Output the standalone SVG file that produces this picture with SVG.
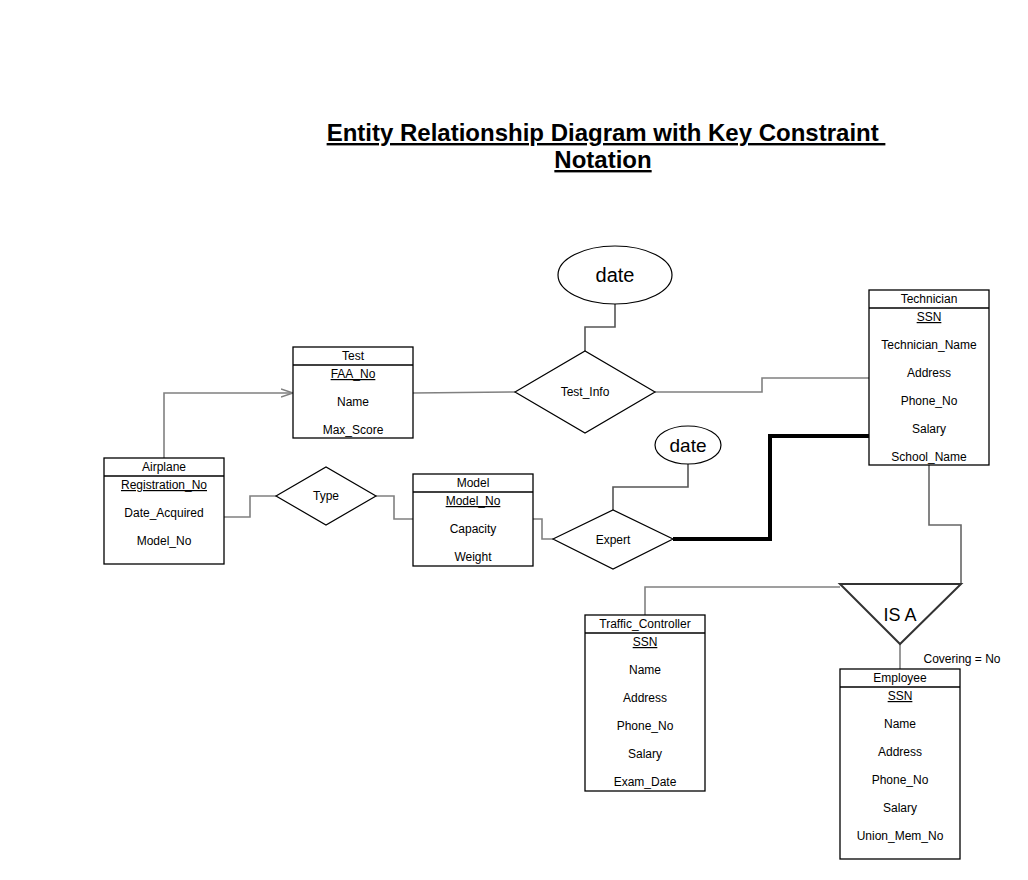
<svg xmlns="http://www.w3.org/2000/svg" width="1028" height="880" viewBox="0 0 1028 880">
<defs>
<style>
text{font-family:"Liberation Sans",Arial,sans-serif;fill:#000}
.box{fill:#fff;stroke:#000;stroke-width:1.3}
.t{font-size:12px;text-anchor:middle}
.k{text-decoration:underline}
.c{fill:none;stroke:#808080;stroke-width:1.6}
.shape{fill:#fff;stroke:#000;stroke-width:1.2}
</style>
<marker id="open" viewBox="0 0 12 10" refX="12" refY="5" markerWidth="12" markerHeight="10" markerUnits="userSpaceOnUse" orient="auto">
<path d="M0,1 L12,5 L0,9" fill="none" stroke="#808080" stroke-width="1.4"/>
</marker>
</defs>
<rect width="1028" height="880" fill="#fff"/>
<g id="title">
<text x="606" y="141" font-size="24" font-weight="bold" text-anchor="middle" text-decoration="underline" xml:space="preserve">Entity Relationship Diagram with Key Constraint </text>
<text x="603" y="168" font-size="24" font-weight="bold" text-anchor="middle" text-decoration="underline">Notation</text>
</g>
<g id="connectors">
<polyline class="c" points="164,458 164,393 293,393" marker-end="url(#open)"/>
<polyline class="c" points="224,517 250,517 250,496 276,496"/>
<polyline class="c" points="376,496 394,496 394,519 413,519"/>
<polyline class="c" points="533,519 542,519 542,539 553,539"/>
<polyline class="c" points="413,393 515,392"/>
<polyline class="c" points="655,392 762,392 762,378 869,378"/>
<polyline class="c" points="615,304 615,327 585,327 585,351" style="stroke:#555"/>
<polyline class="c" points="688,464 688,487 613,487 613,510" style="stroke:#555"/>
<polyline points="673,539 770,539 770,436 869,436" fill="none" stroke="#000" stroke-width="4"/>
<polyline class="c" points="929,465 929,525 961,525 961,584" style="stroke:#666"/>
<polyline class="c" points="840,587 645,587 645,615"/>
<polyline class="c" points="900,644 900,669"/>
</g>
<g id="Test">
<rect class="box" x="293" y="347" width="120" height="91"/>
<line x1="293" y1="365" x2="413" y2="365" stroke="#000" stroke-width="1.3"/>
<text class="t" x="353" y="360">Test</text>
<text class="t k" x="353" y="378">FAA_No</text>
<text class="t" x="353" y="406">Name</text>
<text class="t" x="353" y="434">Max_Score</text>
</g>
<g id="Airplane">
<rect class="box" x="104" y="458" width="120" height="106"/>
<line x1="104" y1="476" x2="224" y2="476" stroke="#000" stroke-width="1.3"/>
<text class="t" x="164" y="471">Airplane</text>
<text class="t k" x="164" y="489">Registration_No</text>
<text class="t" x="164" y="517">Date_Acquired</text>
<text class="t" x="164" y="545">Model_No</text>
</g>
<g id="Model">
<rect class="box" x="413" y="474" width="120" height="92"/>
<line x1="413" y1="492" x2="533" y2="492" stroke="#000" stroke-width="1.3"/>
<text class="t" x="473" y="487">Model</text>
<text class="t k" x="473" y="505">Model_No</text>
<text class="t" x="473" y="533">Capacity</text>
<text class="t" x="473" y="561">Weight</text>
</g>
<g id="Technician">
<rect class="box" x="869" y="290" width="120" height="175"/>
<line x1="869" y1="308" x2="989" y2="308" stroke="#000" stroke-width="1.3"/>
<text class="t" x="929" y="303">Technician</text>
<text class="t k" x="929" y="321">SSN</text>
<text class="t" x="929" y="349">Technician_Name</text>
<text class="t" x="929" y="377">Address</text>
<text class="t" x="929" y="405">Phone_No</text>
<text class="t" x="929" y="433">Salary</text>
<text class="t" x="929" y="461">School_Name</text>
</g>
<g id="Traffic_Controller">
<rect class="box" x="585" y="615" width="120" height="176"/>
<line x1="585" y1="633" x2="705" y2="633" stroke="#000" stroke-width="1.3"/>
<text class="t" x="645" y="628">Traffic_Controller</text>
<text class="t k" x="645" y="646">SSN</text>
<text class="t" x="645" y="674">Name</text>
<text class="t" x="645" y="702">Address</text>
<text class="t" x="645" y="730">Phone_No</text>
<text class="t" x="645" y="758">Salary</text>
<text class="t" x="645" y="786">Exam_Date</text>
</g>
<g id="Employee">
<rect class="box" x="840" y="669" width="120" height="190"/>
<line x1="840" y1="687" x2="960" y2="687" stroke="#000" stroke-width="1.3"/>
<text class="t" x="900" y="682">Employee</text>
<text class="t k" x="900" y="700">SSN</text>
<text class="t" x="900" y="728">Name</text>
<text class="t" x="900" y="756">Address</text>
<text class="t" x="900" y="784">Phone_No</text>
<text class="t" x="900" y="812">Salary</text>
<text class="t" x="900" y="840">Union_Mem_No</text>
</g>
<g id="Type">
<polygon class="shape" points="276,496 326,467 376,496 326,525"/>
<text class="t" x="326" y="500">Type</text>
</g>
<g id="Test_Info">
<polygon class="shape" points="515,392 585,351 655,392 585,433"/>
<text class="t" x="585" y="396">Test_Info</text>
</g>
<g id="Expert">
<polygon class="shape" points="553,539 613,510 673,539 613,569"/>
<text class="t" x="613" y="544">Expert</text>
</g>
<g id="date1">
<ellipse class="shape" cx="615" cy="275" rx="57" ry="29"/>
<text x="615" y="282" font-size="20" text-anchor="middle">date</text>
</g>
<g id="date2">
<ellipse class="shape" cx="688" cy="445" rx="33" ry="19"/>
<text x="688" y="452" font-size="19" text-anchor="middle">date</text>
</g>
<g id="IS_A">
<polygon points="840,584 961,584 900,644" fill="#fff" stroke="#333" stroke-width="2"/>
<text x="900" y="621" font-size="18" text-anchor="middle">IS A</text>
<text x="962" y="663" font-size="12" text-anchor="middle">Covering = No</text>
</g>
</svg>
